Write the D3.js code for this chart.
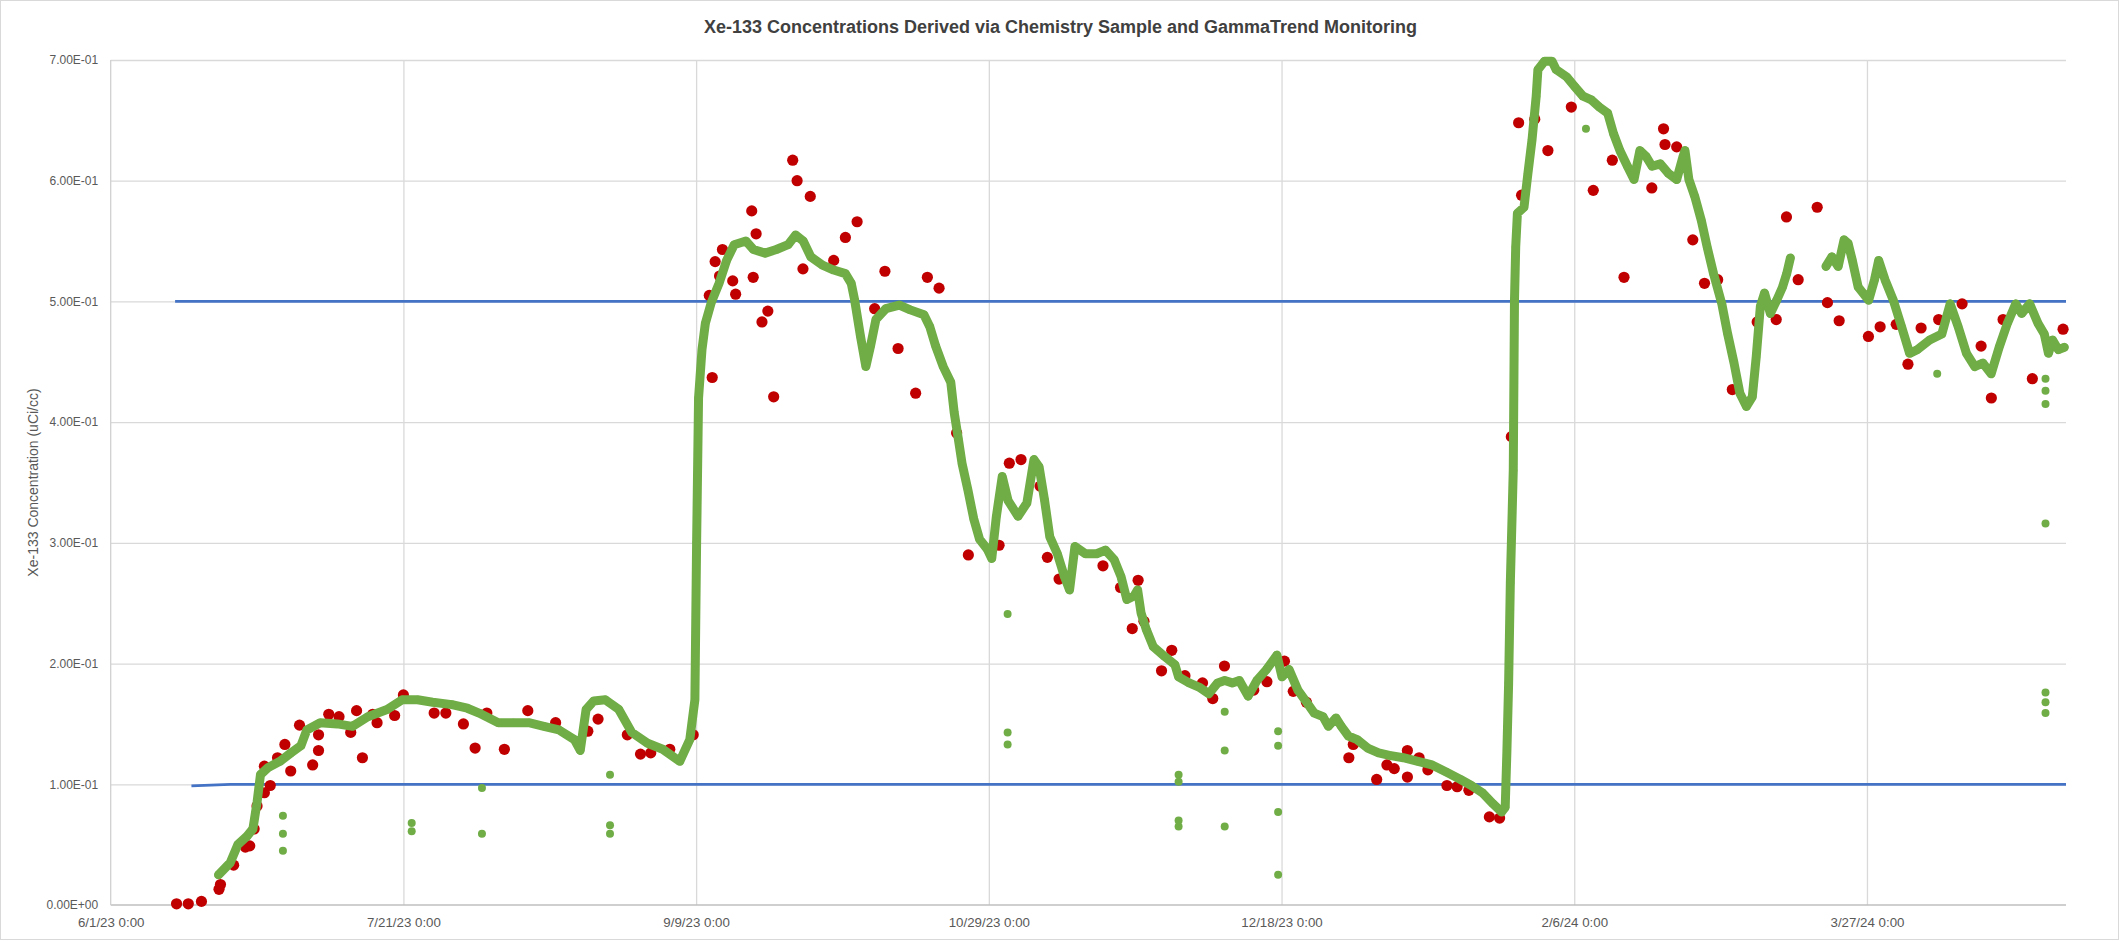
<!DOCTYPE html>
<html>
<head>
<meta charset="utf-8">
<script src="https://cdnjs.cloudflare.com/ajax/libs/d3/7.8.5/d3.min.js"></script>
<style>
    html, body { margin: 0; padding: 0; background: #fff; }
    svg { display: block; font-family: 'Liberation Sans', Arial, sans-serif; }
</style>
</head>
<body>
<svg id="chart" width="2121" height="941"></svg>
<script>
const chartTitle = 'Xe-133 Concentrations Derived via Chemistry Sample and GammaTrend Monitoring';
const yAxisTitle = 'Xe-133 Concentration (uCi/cc)';

const xTicks = ['6/1/23 0:00', '7/21/23 0:00', '9/9/23 0:00', '10/29/23 0:00', '12/18/23 0:00', '2/6/24 0:00', '3/27/24 0:00'];
const xDomain = ['6/1/23 0:00', '4/30/24 0:00'];
const yTicks = [0, 0.1, 0.2, 0.3, 0.4, 0.5, 0.6, 0.7];

// grab samples analysed by chemistry
const chemistrySamples = [
    ['6/12/23 6:00', 0.001], ['6/14/23 6:00', 0.001], ['6/16/23 12:00', 0.003], ['6/19/23 12:00', 0.013],
    ['6/19/23 18:00', 0.017], ['6/22/23 0:00', 0.033], ['6/24/23 0:00', 0.048], ['6/24/23 18:00', 0.049],
    ['6/25/23 12:00', 0.063], ['6/26/23 0:00', 0.082], ['6/27/23 6:00', 0.093], ['6/28/23 6:00', 0.099],
    ['6/27/23 6:00', 0.115], ['6/29/23 12:00', 0.122], ['6/30/23 18:00', 0.133], ['7/1/23 18:00', 0.111],
    ['7/3/23 6:00', 0.149], ['7/5/23 12:00', 0.116], ['7/6/23 12:00', 0.141], ['7/6/23 12:00', 0.128],
    ['7/8/23 6:00', 0.158], ['7/10/23 0:00', 0.156], ['7/12/23 0:00', 0.143], ['7/13/23 0:00', 0.161],
    ['7/14/23 0:00', 0.122], ['7/15/23 18:00', 0.158], ['7/16/23 12:00', 0.151], ['7/19/23 12:00', 0.157],
    ['7/21/23 0:00', 0.174], ['7/26/23 6:00', 0.159], ['7/28/23 6:00', 0.159], ['7/31/23 6:00', 0.150],
    ['8/2/23 6:00', 0.130], ['8/4/23 6:00', 0.159], ['8/7/23 6:00', 0.129], ['8/11/23 6:00', 0.161],
    ['8/16/23 0:00', 0.151], ['8/21/23 12:00', 0.144], ['8/23/23 6:00', 0.154], ['8/28/23 6:00', 0.141],
    ['8/30/23 12:00', 0.125], ['9/1/23 6:00', 0.126], ['9/4/23 12:00', 0.129], ['9/8/23 12:00', 0.141],
    ['9/11/23 6:00', 0.505], ['9/11/23 18:00', 0.437], ['9/12/23 6:00', 0.533], ['9/13/23 0:00', 0.521],
    ['9/13/23 12:00', 0.543], ['9/15/23 6:00', 0.517], ['9/15/23 18:00', 0.506], ['9/18/23 12:00', 0.575],
    ['9/18/23 18:00', 0.520], ['9/19/23 6:00', 0.556], ['9/20/23 6:00', 0.483], ['9/21/23 6:00', 0.492],
    ['9/22/23 6:00', 0.421], ['9/25/23 12:00', 0.617], ['9/26/23 6:00', 0.600], ['9/27/23 6:00', 0.527],
    ['9/28/23 12:00', 0.587], ['10/2/23 12:00', 0.534], ['10/4/23 12:00', 0.553], ['10/6/23 12:00', 0.566],
    ['10/9/23 12:00', 0.494], ['10/11/23 6:00', 0.525], ['10/13/23 12:00', 0.461], ['10/16/23 12:00', 0.424],
    ['10/18/23 12:00', 0.520], ['10/20/23 12:00', 0.511], ['10/23/23 12:00', 0.391], ['10/25/23 12:00', 0.290],
    ['10/30/23 18:00', 0.298], ['11/1/23 12:00', 0.366], ['11/3/23 12:00', 0.369], ['11/6/23 18:00', 0.347],
    ['11/8/23 0:00', 0.288], ['11/10/23 0:00', 0.270], ['11/17/23 12:00', 0.281], ['11/20/23 12:00', 0.263],
    ['11/22/23 12:00', 0.229], ['11/23/23 12:00', 0.269], ['11/24/23 12:00', 0.235], ['11/27/23 12:00', 0.194],
    ['11/29/23 6:00', 0.211], ['12/1/23 12:00', 0.190], ['12/4/23 12:00', 0.184], ['12/6/23 6:00', 0.171],
    ['12/8/23 6:00', 0.198], ['12/13/23 6:00', 0.178], ['12/15/23 12:00', 0.185], ['12/18/23 12:00', 0.202],
    ['12/20/23 0:00', 0.177], ['12/22/23 6:00', 0.168], ['12/29/23 12:00', 0.122], ['12/30/23 6:00', 0.133],
    ['1/3/24 6:00', 0.104], ['1/5/24 0:00', 0.116], ['1/6/24 6:00', 0.113], ['1/8/24 12:00', 0.128],
    ['1/8/24 12:00', 0.106], ['1/10/24 12:00', 0.122], ['1/12/24 0:00', 0.112], ['1/15/24 6:00', 0.099],
    ['1/17/24 0:00', 0.098], ['1/19/24 0:00', 0.095], ['1/22/24 12:00', 0.073], ['1/24/24 6:00', 0.072],
    ['1/26/24 6:00', 0.388], ['1/27/24 12:00', 0.648], ['1/28/24 0:00', 0.588], ['1/30/24 6:00', 0.651],
    ['2/1/24 12:00', 0.625], ['2/5/24 12:00', 0.661], ['2/9/24 6:00', 0.592], ['2/12/24 12:00', 0.617],
    ['2/14/24 12:00', 0.520], ['2/19/24 6:00', 0.594], ['2/21/24 6:00', 0.643], ['2/21/24 12:00', 0.630],
    ['2/23/24 12:00', 0.628], ['2/26/24 6:00', 0.551], ['2/28/24 6:00', 0.515], ['3/1/24 12:00', 0.518],
    ['3/4/24 0:00', 0.427], ['3/8/24 6:00', 0.483], ['3/11/24 12:00', 0.485], ['3/13/24 6:00', 0.570],
    ['3/15/24 6:00', 0.518], ['3/18/24 12:00', 0.578], ['3/20/24 6:00', 0.499], ['3/22/24 6:00', 0.484],
    ['3/27/24 6:00', 0.471], ['3/29/24 6:00', 0.479], ['4/1/24 0:00', 0.481], ['4/3/24 0:00', 0.448],
    ['4/5/24 6:00', 0.478], ['4/8/24 6:00', 0.485], ['4/12/24 6:00', 0.498], ['4/15/24 12:00', 0.463],
    ['4/17/24 6:00', 0.420], ['4/19/24 6:00', 0.485], ['4/24/24 6:00', 0.436], ['4/29/24 12:00', 0.477]
];

// GammaTrend monitor trace, null marks the data gap in March
const gammaTrend = [
    ['6/19/23 10:00', 0.025], ['6/21/23 10:00', 0.035], ['6/22/23 17:00', 0.050], ['6/24/23 7:00', 0.057],
    ['6/25/23 7:00', 0.063], ['6/26/23 0:00', 0.085], ['6/26/23 14:00', 0.108], ['6/27/23 22:00', 0.114],
    ['6/29/23 22:00', 0.119], ['7/1/23 19:00', 0.126], ['7/3/23 12:00', 0.132], ['7/4/23 12:00', 0.145],
    ['7/6/23 19:00', 0.151], ['7/9/23 17:00', 0.150], ['7/12/23 7:00', 0.148], ['7/14/23 22:00', 0.156],
    ['7/18/23 5:00', 0.162], ['7/20/23 19:00', 0.170], ['7/23/23 10:00', 0.170], ['7/26/23 0:00', 0.168],
    ['7/29/23 7:00', 0.166], ['7/31/23 22:00', 0.163], ['8/2/23 22:00', 0.159], ['8/6/23 5:00', 0.151],
    ['8/8/23 19:00', 0.151], ['8/11/23 10:00', 0.151], ['8/14/23 0:00', 0.148], ['8/16/23 14:00', 0.145],
    ['8/19/23 5:00', 0.137], ['8/20/23 5:00', 0.128], ['8/21/23 5:00', 0.162], ['8/22/23 12:00', 0.169],
    ['8/24/23 12:00', 0.170], ['8/26/23 19:00', 0.162], ['8/29/23 0:00', 0.143], ['8/31/23 17:00', 0.134],
    ['9/3/23 7:00', 0.129], ['9/6/23 5:00', 0.119], ['9/7/23 22:00', 0.137], ['9/8/23 19:00', 0.170],
    ['9/9/23 2:00', 0.300], ['9/9/23 10:00', 0.420], ['9/10/23 0:00', 0.460], ['9/10/23 14:00', 0.482],
    ['9/11/23 14:00', 0.499], ['9/12/23 22:00', 0.515], ['9/14/23 5:00', 0.534], ['9/15/23 12:00', 0.547],
    ['9/17/23 12:00', 0.550], ['9/18/23 19:00', 0.543], ['9/20/23 19:00', 0.540], ['9/22/23 17:00', 0.543],
    ['9/24/23 17:00', 0.547], ['9/26/23 0:00', 0.555], ['9/27/23 7:00', 0.550], ['9/28/23 14:00', 0.537],
    ['9/30/23 14:00', 0.530], ['10/2/23 12:00', 0.526], ['10/4/23 12:00', 0.523], ['10/5/23 12:00', 0.515],
    ['10/6/23 2:00', 0.501], ['10/7/23 2:00', 0.471], ['10/8/23 0:00', 0.446], ['10/8/23 19:00', 0.463],
    ['10/9/23 17:00', 0.485], ['10/11/23 10:00', 0.494], ['10/13/23 17:00', 0.497], ['10/15/23 14:00', 0.493],
    ['10/17/23 22:00', 0.489], ['10/18/23 22:00', 0.479], ['10/19/23 22:00', 0.463], ['10/21/23 5:00', 0.446],
    ['10/22/23 12:00', 0.433], ['10/23/23 2:00', 0.408], ['10/23/23 19:00', 0.386], ['10/24/23 10:00', 0.366],
    ['10/25/23 10:00', 0.344], ['10/26/23 10:00', 0.320], ['10/27/23 10:00', 0.303], ['10/28/23 17:00', 0.295],
    ['10/29/23 12:00', 0.287], ['10/30/23 7:00', 0.322], ['10/31/23 7:00', 0.355], ['11/1/23 7:00', 0.335],
    ['11/3/23 0:00', 0.322], ['11/4/23 12:00', 0.333], ['11/5/23 17:00', 0.369], ['11/6/23 14:00', 0.363],
    ['11/7/23 12:00', 0.336], ['11/8/23 10:00', 0.305], ['11/9/23 17:00', 0.291], ['11/10/23 22:00', 0.272],
    ['11/11/23 19:00', 0.261], ['11/12/23 17:00', 0.297], ['11/14/23 12:00', 0.291], ['11/16/23 10:00', 0.291],
    ['11/17/23 22:00', 0.294], ['11/19/23 10:00', 0.286], ['11/20/23 14:00', 0.272], ['11/21/23 14:00', 0.253],
    ['11/22/23 19:00', 0.256], ['11/23/23 10:00', 0.261], ['11/24/23 0:00', 0.242], ['11/24/23 22:00', 0.228],
    ['11/26/23 2:00', 0.214], ['11/28/23 0:00', 0.206], ['11/29/23 19:00', 0.199], ['11/30/23 10:00', 0.189],
    ['12/2/23 5:00', 0.184], ['12/4/23 2:00', 0.180], ['12/5/23 14:00', 0.175], ['12/7/23 2:00', 0.184],
    ['12/8/23 7:00', 0.186], ['12/9/23 14:00', 0.184], ['12/10/23 19:00', 0.186], ['12/12/23 7:00', 0.173],
    ['12/13/23 19:00', 0.186], ['12/15/23 10:00', 0.195], ['12/17/23 5:00', 0.207], ['12/18/23 2:00', 0.189],
    ['12/19/23 7:00', 0.195], ['12/20/23 19:00', 0.178], ['12/22/23 10:00', 0.167], ['12/23/23 14:00', 0.159],
    ['12/25/23 2:00', 0.156], ['12/26/23 0:00', 0.148], ['12/27/23 7:00', 0.155], ['12/28/23 5:00', 0.148],
    ['12/29/23 10:00', 0.140], ['12/30/23 22:00', 0.137], ['1/1/24 17:00', 0.130], ['1/3/24 14:00', 0.126],
    ['1/5/24 10:00', 0.124], ['1/7/24 19:00', 0.122], ['1/10/24 7:00', 0.119], ['1/12/24 17:00', 0.116],
    ['1/15/24 5:00', 0.110], ['1/17/24 14:00', 0.104], ['1/19/24 10:00', 0.099], ['1/21/24 7:00', 0.093],
    ['1/23/24 2:00', 0.084], ['1/24/24 14:00', 0.077], ['1/25/24 5:00', 0.081], ['1/25/24 12:00', 0.128],
    ['1/25/24 19:00', 0.184], ['1/26/24 2:00', 0.267], ['1/26/24 14:00', 0.360], ['1/26/24 19:00', 0.501],
    ['1/27/24 0:00', 0.545], ['1/27/24 7:00', 0.573], ['1/28/24 10:00', 0.578], ['1/29/24 2:00', 0.606],
    ['1/29/24 19:00', 0.634], ['1/30/24 12:00', 0.670], ['1/30/24 19:00', 0.692], ['1/31/24 22:00', 0.699],
    ['2/2/24 5:00', 0.699], ['2/2/24 22:00', 0.692], ['2/4/24 17:00', 0.686], ['2/6/24 2:00', 0.678],
    ['2/7/24 12:00', 0.670], ['2/8/24 22:00', 0.667], ['2/10/24 7:00', 0.661], ['2/11/24 17:00', 0.656],
    ['2/12/24 17:00', 0.639], ['2/13/24 19:00', 0.625], ['2/15/24 2:00', 0.612], ['2/16/24 5:00', 0.601],
    ['2/17/24 5:00', 0.625], ['2/18/24 7:00', 0.620], ['2/19/24 7:00', 0.612], ['2/20/24 17:00', 0.614],
    ['2/22/24 2:00', 0.606], ['2/23/24 12:00', 0.601], ['2/24/24 14:00', 0.620], ['2/24/24 22:00', 0.625],
    ['2/25/24 14:00', 0.601], ['2/26/24 14:00', 0.587], ['2/27/24 17:00', 0.567], ['2/28/24 17:00', 0.545],
    ['2/29/24 19:00', 0.523], ['3/2/24 5:00', 0.498], ['3/3/24 5:00', 0.473], ['3/4/24 7:00', 0.449],
    ['3/5/24 7:00', 0.424], ['3/6/24 10:00', 0.413], ['3/7/24 10:00', 0.421], ['3/8/24 2:00', 0.454],
    ['3/8/24 19:00', 0.496], ['3/9/24 12:00', 0.507], ['3/10/24 12:00', 0.490], ['3/11/24 14:00', 0.501],
    ['3/12/24 14:00', 0.512], ['3/13/24 7:00', 0.523], ['3/13/24 22:00', 0.536], ['3/16/24 0:00', null],
    ['3/20/24 0:00', 0.529], ['3/21/24 0:00', 0.537], ['3/22/24 2:00', 0.529], ['3/23/24 2:00', 0.551],
    ['3/23/24 19:00', 0.548], ['3/24/24 12:00', 0.534], ['3/25/24 12:00', 0.512], ['3/27/24 7:00', 0.501],
    ['3/28/24 7:00', 0.518], ['3/29/24 0:00', 0.534], ['3/30/24 2:00', 0.518], ['3/31/24 12:00', 0.501],
    ['4/1/24 22:00', 0.479], ['4/3/24 7:00', 0.457], ['4/4/24 14:00', 0.460], ['4/6/24 17:00', 0.468],
    ['4/8/24 19:00', 0.473], ['4/10/24 5:00', 0.498], ['4/11/24 14:00', 0.479], ['4/13/24 0:00', 0.457],
    ['4/14/24 10:00', 0.446], ['4/15/24 19:00', 0.449], ['4/17/24 5:00', 0.440], ['4/18/24 14:00', 0.462],
    ['4/20/24 0:00', 0.482], ['4/21/24 10:00', 0.498], ['4/22/24 10:00', 0.490], ['4/23/24 19:00', 0.498],
    ['4/25/24 5:00', 0.482], ['4/26/24 7:00', 0.473], ['4/27/24 0:00', 0.457], ['4/27/24 17:00', 0.468],
    ['4/28/24 17:00', 0.460], ['4/29/24 17:00', 0.462]
];

// isolated monitor readings that sit off the trace
const gammaOutliers = [
    ['6/30/23 10:00', 0.074], ['6/30/23 10:00', 0.059], ['6/30/23 10:00', 0.045],
    ['7/22/23 10:00', 0.068], ['7/22/23 10:00', 0.061],
    ['8/3/23 10:00', 0.097], ['8/3/23 10:00', 0.059],
    ['8/25/23 7:00', 0.108], ['8/25/23 7:00', 0.066], ['8/25/23 7:00', 0.059],
    ['11/1/23 5:00', 0.241], ['11/1/23 5:00', 0.143], ['11/1/23 5:00', 0.133],
    ['11/30/23 10:00', 0.108], ['11/30/23 10:00', 0.102], ['11/30/23 10:00', 0.070], ['11/30/23 10:00', 0.065],
    ['12/8/23 7:00', 0.160], ['12/8/23 7:00', 0.128], ['12/8/23 7:00', 0.065],
    ['12/17/23 10:00', 0.144], ['12/17/23 10:00', 0.132], ['12/17/23 10:00', 0.077], ['12/17/23 10:00', 0.025],
    ['2/8/24 0:00', 0.643], ['4/8/24 0:00', 0.440],
    ['4/26/24 12:00', 0.436], ['4/26/24 12:00', 0.426], ['4/26/24 12:00', 0.415], ['4/26/24 12:00', 0.316],
    ['4/26/24 12:00', 0.176], ['4/26/24 12:00', 0.168], ['4/26/24 12:00', 0.159]
];

const upperLimit = [['6/12/23 0:00', 0.5], ['4/30/24 0:00', 0.5]];
const lowerLimit = [['6/14/23 19:00', 0.0986], ['6/21/23 10:00', 0.1], ['4/30/24 0:00', 0.1]];

const width = 2121;
const height = 941;
const margin = { top: 60, right: 55, bottom: 36, left: 110.7 };
const textColor = '#595959';

const parseTime = d3.utcParse('%m/%d/%y %H:%M');
const formatTime = d3.utcFormat('%-m/%-d/%y %-H:%M');

const sciFormat = v => {
    const [mantissa, exp] = v.toExponential(2).split('e');
    const n = +exp;
    return `${mantissa}E${n < 0 ? '-' : '+'}${String(Math.abs(n)).padStart(2, '0')}`;
};

const x = d3.scaleUtc()
    .domain(xDomain.map(parseTime))
    .range([margin.left, width - margin.right]);

const y = d3.scaleLinear()
    .domain([0, 0.7])
    .range([height - margin.bottom, margin.top]);

const svg = d3.select('#chart');

svg.append('rect')
    .attr('x', 0.5)
    .attr('y', 0.5)
    .attr('width', width - 3)
    .attr('height', height - 2)
    .attr('fill', '#fff')
    .attr('stroke', '#d9d9d9');

// gridlines
svg.append('g')
    .attr('transform', `translate(${margin.left},0)`)
    .call(d3.axisLeft(y).tickValues(yTicks.slice(1)).tickSize(-(x.range()[1] - margin.left)).tickFormat(''))
    .call(g => g.select('.domain').remove())
    .call(g => g.selectAll('line').attr('stroke', '#d9d9d9').attr('stroke-width', 1.3));

svg.append('g')
    .attr('transform', `translate(0,${y(0)})`)
    .call(d3.axisBottom(x).tickValues(xTicks.slice(1).map(parseTime)).tickSize(-(y(0) - margin.top)).tickFormat(''))
    .call(g => g.select('.domain').remove())
    .call(g => g.selectAll('line').attr('stroke', '#d9d9d9').attr('stroke-width', 1.3));

// axis lines
svg.append('line')
    .attr('x1', margin.left).attr('x2', x.range()[1])
    .attr('y1', y(0)).attr('y2', y(0))
    .attr('stroke', '#bfbfbf').attr('stroke-width', 1.5);

svg.append('line')
    .attr('x1', margin.left).attr('x2', margin.left)
    .attr('y1', margin.top).attr('y2', y(0))
    .attr('stroke', '#d0d0d0').attr('stroke-width', 1.3);

// tick labels
svg.append('g')
    .attr('transform', `translate(${margin.left},0)`)
    .call(d3.axisLeft(y).tickValues(yTicks).tickSize(0).tickPadding(12.5).tickFormat(sciFormat))
    .call(g => g.select('.domain').remove())
    .call(g => g.selectAll('text')
        .attr('fill', textColor)
        .style('font-size', '12px')
        .style('font-family', "'Liberation Sans', Arial, sans-serif"));

svg.append('g')
    .attr('transform', `translate(0,${y(0)})`)
    .call(d3.axisBottom(x).tickValues(xTicks.map(parseTime)).tickSize(0).tickPadding(13).tickFormat(formatTime))
    .call(g => g.select('.domain').remove())
    .call(g => g.selectAll('text')
        .attr('fill', textColor)
        .style('font-size', '13.3px')
        .style('font-family', "'Liberation Sans', Arial, sans-serif"));

// limit lines
const limitLine = d3.line()
    .x(d => x(parseTime(d[0])))
    .y(d => y(d[1]));

[upperLimit, lowerLimit].forEach(series => {
    svg.append('path')
        .datum(series)
        .attr('d', limitLine)
        .attr('fill', 'none')
        .attr('stroke', '#4472C4')
        .attr('stroke-width', 2.8);
});

// chemistry samples
svg.append('g')
    .selectAll('circle')
    .data(chemistrySamples)
    .enter()
    .append('circle')
    .attr('cx', d => x(parseTime(d[0])))
    .attr('cy', d => y(d[1]))
    .attr('r', 5.6)
    .attr('fill', '#C00000');

// GammaTrend trace
const gammaLine = d3.line()
    .defined(d => d[1] !== null)
    .x(d => x(parseTime(d[0])))
    .y(d => y(d[1]));

svg.append('path')
    .datum(gammaTrend)
    .attr('d', gammaLine)
    .attr('fill', 'none')
    .attr('stroke', '#70AD47')
    .attr('stroke-width', 9)
    .attr('stroke-linejoin', 'round')
    .attr('stroke-linecap', 'round');

svg.append('g')
    .selectAll('circle')
    .data(gammaTrend.filter(d => d[1] !== null).concat(gammaOutliers))
    .enter()
    .append('circle')
    .attr('cx', d => x(parseTime(d[0])))
    .attr('cy', d => y(d[1]))
    .attr('r', 4)
    .attr('fill', '#70AD47');

// titles
svg.append('text')
    .attr('x', width / 2)
    .attr('y', 33)
    .attr('text-anchor', 'middle')
    .attr('fill', '#404040')
    .style('font-size', '18px')
    .style('font-weight', 'bold')
    .text(chartTitle);

svg.append('text')
    .attr('transform', `translate(38,${(margin.top + y(0)) / 2}) rotate(-90)`)
    .attr('text-anchor', 'middle')
    .attr('fill', textColor)
    .style('font-size', '14px')
    .text(yAxisTitle);
</script>
</body>
</html>
